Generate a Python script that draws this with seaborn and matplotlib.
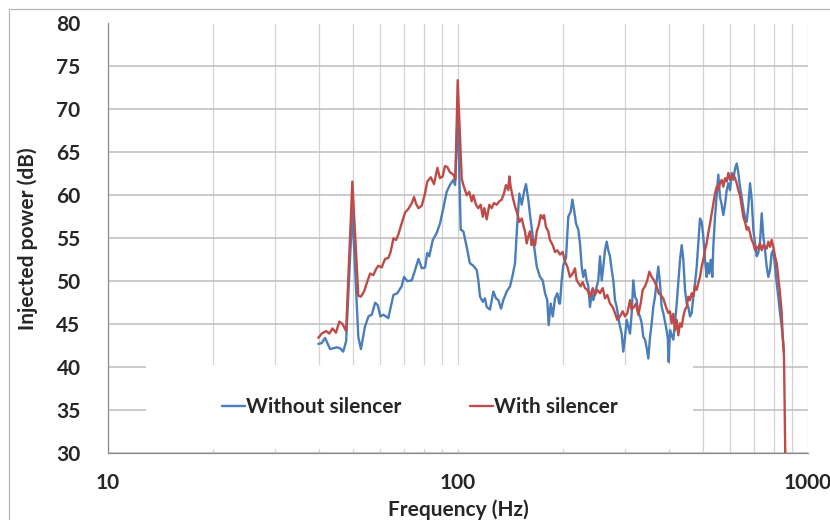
import numpy as np
import pandas as pd
import matplotlib
matplotlib.use("Agg")
import matplotlib.pyplot as plt
from matplotlib.patches import Rectangle
from matplotlib.ticker import FixedLocator, NullFormatter, FixedFormatter
import seaborn as sns

# ---------------- data ----------------
freq_without = [39.9, 40.8, 41.7, 43.1, 44.0, 45.0, 46.0, 47.0, 47.9, 49.9, 51.9, 52.8,
                54.2, 55.5, 56.7, 58.0, 59.0, 60.0, 61.2, 63.2, 65.4, 67.1, 69.0, 70.1,
                71.7, 73.8, 75.4, 77.1, 78.8, 80.5, 81.7, 82.8, 84.7, 86.9, 88.8, 90.8,
                92.8, 94.8, 97.0, 98.1, 99.8, 101.8, 103.6, 105.9, 108.1, 110.6, 113.1,
                114.3, 115.6, 117.7, 119.4, 120.8, 123.4, 126.2, 128.4, 130.4, 132.7,
                134.7, 137.8, 140.8, 143.3, 145.5, 147.7, 149.7, 152.1, 154.4, 156.4,
                158.8, 160.6, 164.1, 167.9, 171.5, 174.6, 177.3, 179.9, 181.6, 184.0,
                186.5, 189.3, 192.2, 194.7, 195.6, 197.8, 200.0, 203.5, 206.6, 209.9,
                212.2, 214.6, 217.4, 220.7, 223.1, 225.6, 228.0, 230.6, 233.2, 235.7,
                238.3, 241.0, 243.6, 246.3, 249.1, 251.7, 254.5, 257.4, 260.1, 263.0,
                266.0, 268.8, 271.8, 274.9, 277.8, 280.9, 284.1, 289.0, 293.5, 296.7,
                300.0, 303.4, 306.6, 310.1, 313.5, 316.9, 320.4, 324.0, 327.4, 331.1,
                334.9, 338.4, 342.2, 346.1, 349.8, 353.7, 357.6, 361.4, 365.5, 369.6,
                373.5, 377.6, 381.9, 386.0, 392.9, 397.3, 400.0, 403.4, 407.9, 412.2,
                416.9, 421.6, 426.0, 430.9, 435.7, 440.3, 445.3, 450.3, 455.0, 460.2,
                465.3, 470.3, 475.6, 480.9, 486.0, 491.4, 496.9, 502.1, 507.7, 513.4,
                516.7, 522.0, 527.0, 533.0, 536.3, 542.4, 548.4, 554.3, 560.5, 566.7,
                572.8, 579.3, 585.8, 592.0, 598.7, 605.4, 611.9, 618.7, 625.7, 632.3,
                639.3, 646.6, 653.4, 660.7, 668.2, 675.2, 682.9, 690.5, 697.9, 705.8,
                713.6, 721.1, 729.4, 737.5, 745.4, 753.6, 762.1, 770.2, 778.8, 787.6,
                796.0, 804.8, 813.9, 822.4, 831.8, 841.2, 850.0, 854.0]
power_without = [42.7, 42.8, 43.4, 42.1, 42.2, 42.3, 42.2, 41.8, 43.0, 58.3, 43.5, 42.1,
                 44.7, 45.9, 46.1, 47.5, 47.2, 45.9, 46.1, 45.7, 48.4, 48.6, 49.4, 50.5,
                 50.0, 50.1, 51.3, 52.6, 51.5, 51.6, 53.3, 52.9, 54.8, 55.6, 56.7, 58.5,
                 60.4, 61.2, 61.8, 61.2, 69.8, 56.0, 55.8, 54.0, 52.1, 51.8, 51.3,
                 50.1, 48.2, 47.6, 48.0, 47.0, 46.7, 48.8, 48.0, 47.8, 46.8,
                 47.8, 48.8, 49.4, 50.7, 52.1, 56.7, 60.2, 58.9, 60.4, 61.3,
                 59.5, 57.7, 54.8, 51.7, 50.5, 50.1, 48.6, 47.8, 44.9, 47.4,
                 45.9, 48.0, 48.6, 47.4, 47.4, 50.1, 51.9, 52.7, 57.5, 58.1,
                 59.5, 58.3, 56.7, 56.0, 54.4, 51.7, 50.5, 51.3, 50.1, 49.4,
                 47.0, 48.6, 47.8, 48.6, 49.4, 50.1, 52.9, 50.1, 51.7, 53.6,
                 54.6, 53.6, 52.9, 51.3, 50.1, 47.8, 47.0, 45.1, 43.9, 41.8,
                 43.5, 45.5, 44.7, 43.9, 46.3, 50.1, 48.2, 47.8, 46.3, 45.9,
                 45.1, 43.5, 43.2, 42.2, 41.0, 43.5, 45.1, 47.0, 48.2, 50.1,
                 51.7, 49.8, 47.0, 46.3, 44.7, 43.5, 40.6, 44.3, 43.7, 43.2,
                 45.1, 47.4, 49.8, 52.5, 54.2, 52.5, 49.0, 47.4, 47.0, 45.9,
                 46.3, 48.2, 49.8, 51.7, 54.4, 57.3, 56.9, 55.2, 52.5, 50.5,
                 52.1, 50.9, 52.5, 50.5, 54.0, 57.5, 60.0, 62.4, 59.8, 58.9,
                 57.7, 58.9, 60.6, 61.4, 60.6, 62.6, 61.8, 63.1, 63.7, 62.6,
                 61.0, 59.8, 58.5, 57.5, 56.9, 58.7, 61.4, 59.5, 56.0, 54.4,
                 52.9, 53.3, 54.6, 57.9, 55.2, 53.6, 51.7, 50.5, 51.3, 53.3,
                 53.6, 51.7, 49.8, 48.2, 46.3, 44.7, 42.8, 41.8]

freq_with = [39.9, 40.8, 42.0, 42.9, 43.8, 44.8, 45.8, 46.8, 47.9, 49.9, 51.9, 52.8,
             53.9, 55.1, 56.1, 57.3, 58.3, 59.2, 60.5, 61.9, 63.2, 64.2, 65.4, 66.5,
             67.5, 69.0, 70.6, 72.1, 73.8, 74.9, 75.9, 77.1, 78.8, 80.5, 81.7, 83.6,
             85.4, 87.3, 88.8, 90.4, 91.8, 93.2, 94.8, 97.0, 98.3, 99.8, 102.5, 103.6,
             105.9, 107.7, 109.4, 110.6, 112.6, 114.3, 116.1, 117.7, 118.9, 120.8,
             122.9, 124.8, 126.7, 129.0, 131.2, 133.3, 135.3, 137.1, 139.2, 140.2,
             141.4, 143.3, 145.5, 147.7, 149.7, 152.1, 153.7, 155.4, 157.1, 158.8,
             160.6, 162.3, 164.1, 166.0, 167.9, 170.1, 172.3, 174.6, 176.1, 178.4,
             181.1, 183.1, 186.5, 189.3, 192.2, 195.6, 199.1, 202.1, 205.3, 208.9,
             212.7, 215.9, 218.3, 220.7, 224.1, 227.1, 230.6, 234.1, 238.3, 242.6,
             246.3, 250.1, 254.5, 259.1, 263.0, 267.1, 271.8, 276.7, 280.9, 285.1,
             290.3, 295.5, 300.0, 304.8, 310.1, 313.5, 318.3, 322.6, 327.4, 332.6,
             337.1, 342.2, 347.4, 352.1, 357.6, 363.1, 369.6, 374.4, 379.3, 386.0,
             392.9, 398.9, 403.4, 407.9, 412.2, 416.9, 421.6, 426.0, 430.9, 435.7,
             440.3, 445.3, 450.3, 455.0, 460.2, 465.3, 470.3, 475.6, 480.9, 486.0,
             491.4, 496.9, 502.1, 507.7, 513.4, 518.8, 524.8, 530.7, 536.3, 542.4,
             548.4, 554.3, 560.5, 566.7, 572.8, 579.3, 585.8, 592.0, 598.7, 605.4,
             611.9, 618.7, 625.7, 632.3, 639.3, 646.6, 653.4, 660.7, 668.2, 675.2,
             682.9, 690.5, 697.9, 705.8, 713.6, 721.1, 729.4, 737.5, 745.4, 753.6,
             762.1, 770.2, 778.8, 787.6, 796.0, 804.8, 813.9, 822.4, 831.8, 841.2,
             846.7, 854.0, 858.0, 861.0]
power_with = [43.4, 43.9, 44.2, 43.9, 44.5, 44.0, 45.3, 45.0, 44.2, 61.6, 48.3, 48.2,
              48.8, 50.0, 50.9, 50.7, 51.4, 51.8, 51.6, 52.6, 52.7, 53.4, 55.0, 54.8,
              55.4, 56.7, 58.0, 58.4, 59.1, 59.8, 59.0, 58.5, 58.8, 60.2, 61.6, 62.1,
              61.3, 63.2, 62.0, 62.2, 63.4, 63.3, 62.7, 62.4, 61.8, 73.4, 61.9, 61.2,
              60.0, 60.4, 59.3, 60.0, 58.9, 58.5, 58.9, 57.5, 58.5, 57.2,
              58.9, 58.5, 59.1, 58.9, 59.3, 59.5, 60.2, 61.2, 60.6, 62.2,
              61.0, 59.8, 58.7, 57.9, 56.9, 57.3, 56.5, 55.8, 54.4, 55.2,
              55.8, 54.2, 54.8, 54.2, 55.8, 56.5, 57.7, 57.3, 57.7, 56.3,
              55.8, 54.8, 54.2, 53.4, 53.6, 53.1, 53.4, 52.3, 51.7, 50.5,
              50.9, 51.5, 50.1, 49.8, 49.4, 49.9, 49.2, 49.0, 48.2, 49.2,
              48.4, 49.0, 48.6, 49.2, 48.0, 48.4, 47.4, 47.0, 46.3, 45.5,
              45.9, 46.5, 45.9, 46.3, 47.8, 46.7, 47.0, 47.4, 46.1, 47.4,
              49.0, 49.4, 50.1, 51.1, 50.5, 50.1, 49.4, 48.6, 48.4, 48.0,
              47.0, 46.3, 46.5, 45.1, 46.2, 44.3, 45.5, 43.7, 45.1, 44.7,
              45.9, 46.7, 47.0, 48.2, 47.8, 48.6, 48.2, 49.4, 49.0, 49.8,
              50.5, 51.7, 52.5, 53.6, 54.4, 55.6, 56.7, 57.9, 59.1, 60.2,
              61.0, 60.6, 61.4, 61.8, 61.0, 62.0, 61.6, 62.6, 61.8, 62.2,
              62.4, 62.0, 61.4, 60.6, 60.0, 58.7, 57.5, 56.9, 56.0, 56.3,
              55.6, 54.8, 54.4, 53.6, 54.0, 53.8, 54.4, 53.6, 54.2, 54.0,
              53.8, 54.6, 54.0, 54.8, 54.0, 52.9, 52.1, 50.5, 48.6, 46.3,
              43.5, 41.2, 34.2, 30.0]

series_labels = ["Without silencer", "With silencer"]
y_ticks = [30, 35, 40, 45, 50, 55, 60, 65, 70, 75, 80]
x_major = [10, 100, 1000]
x_minor = [20, 30, 40, 50, 60, 70, 80, 90, 200, 300, 400, 500, 600, 700, 800, 900]

# ---------------- styling ----------------
sns.set_style("white")
plt.rcParams["font.family"] = ["Lato", "DejaVu Sans"]
plt.rcParams["font.weight"] = "bold"

BLUE = "#4A7EBB"
RED = "#BE4B48"
FS = 15

fig = plt.figure(figsize=(8.3, 5.2), dpi=100)
ax = fig.add_axes([108 / 830, 1 - 453 / 520, 700 / 830, 429.5 / 520])

df1 = pd.DataFrame({"f": freq_without, "p": power_without})
df2 = pd.DataFrame({"f": freq_with, "p": power_with})
sns.lineplot(data=df1, x="f", y="p", ax=ax, color=BLUE, linewidth=1.7,
             estimator=None, sort=False, label=series_labels[0], zorder=3)
sns.lineplot(data=df2, x="f", y="p", ax=ax, color=RED, linewidth=1.7,
             estimator=None, sort=False, label=series_labels[1], zorder=3)

ax.set_xscale("log")
ax.set_xlim(10, 1000)
ax.set_ylim(30, 80)
ax.xaxis.set_major_locator(FixedLocator(x_major))
ax.xaxis.set_major_formatter(FixedFormatter([str(v) for v in x_major]))
ax.xaxis.set_minor_locator(FixedLocator(x_minor))
ax.xaxis.set_minor_formatter(NullFormatter())
ax.set_yticks(y_ticks)
ax.set_yticklabels([str(v) for v in y_ticks])

ax.set_axisbelow(True)
ax.grid(True, which="major", axis="y", color="#BDBDBD", linewidth=1.1)
ax.grid(True, which="both", axis="x", color="#D2D2D2", linewidth=0.9)

for s in ["top", "right"]:
    ax.spines[s].set_visible(False)
for s in ["left", "bottom"]:
    ax.spines[s].set_color("#8C8C8C")
    ax.spines[s].set_linewidth(0.9)

ax.tick_params(axis="y", which="major", direction="out", length=5.8, width=0.9,
               color="#8C8C8C", pad=14, labelsize=FS)
ax.tick_params(axis="x", which="major", direction="out", length=4.3, width=0.9,
               color="#8C8C8C", pad=10, labelsize=FS)
ax.tick_params(axis="x", which="minor", length=0)
for lab in ax.get_xticklabels() + ax.get_yticklabels():
    lab.set_fontweight("bold")

ax.set_xlabel("Frequency (Hz)", fontsize=FS, fontweight="bold", labelpad=5)
ax.set_ylabel("Injected power (dB)", fontsize=FS, fontweight="bold", labelpad=13)

# white legend area
ax.add_patch(Rectangle(((146 - 108) / 700, (453 - 449) / 429.5), (693 - 146) / 700,
                       (449 - 365) / 429.5, transform=ax.transAxes,
                       facecolor="white", edgecolor="none", zorder=1))
leg = ax.legend(loc="center", bbox_to_anchor=(0.446, 0.107), ncol=2, frameon=False,
                handlelength=1.1, handletextpad=0.05, columnspacing=3.3,
                prop={"size": FS, "weight": "bold"})

# chart-area border
fig.patches.append(Rectangle((9 / 830, -0.1), 1.2, 1.1 - 9 / 520, transform=fig.transFigure,
                             fill=False, edgecolor="#B5B5B5", linewidth=0.9))

fig.savefig("out.png", dpi=100)
